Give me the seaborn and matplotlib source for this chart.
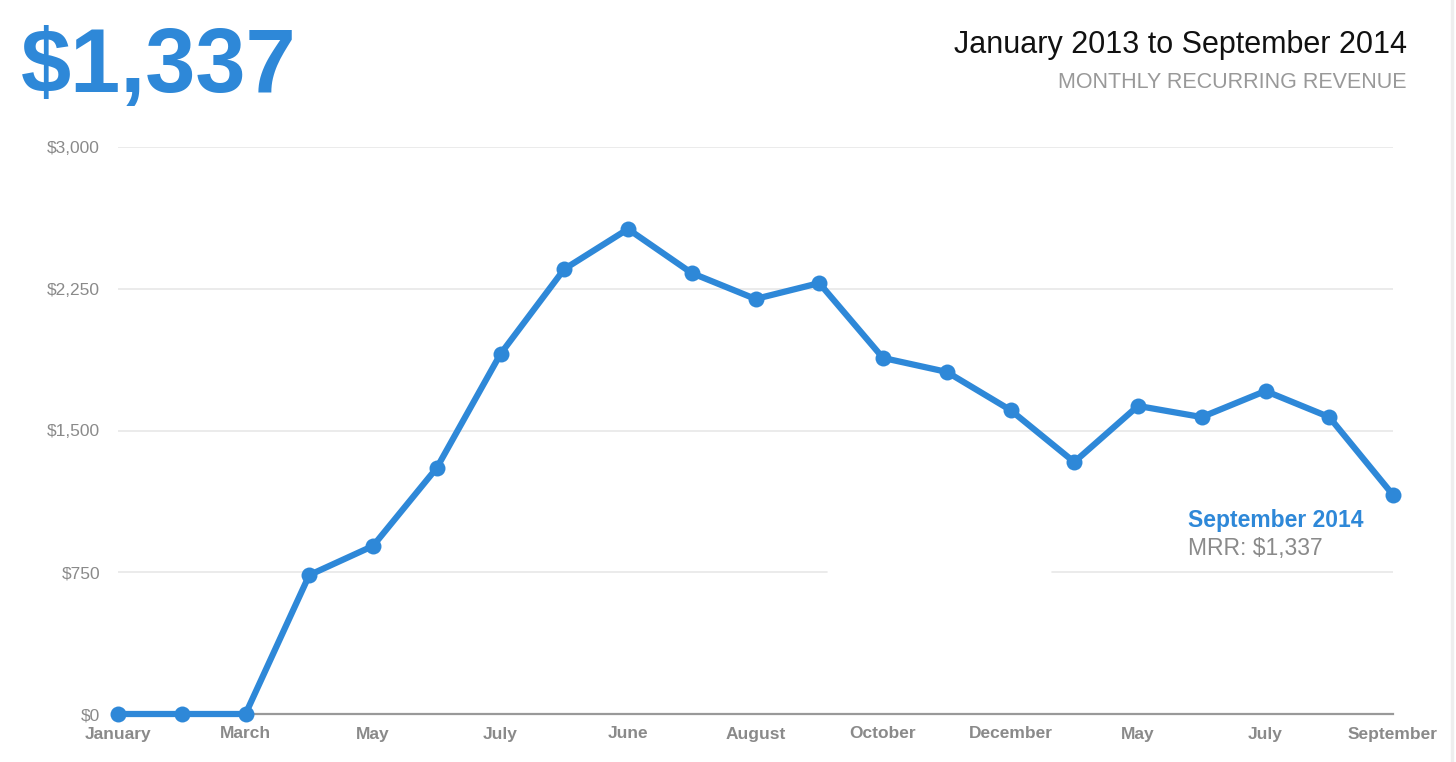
import matplotlib
matplotlib.use("Agg")
import matplotlib.pyplot as plt
import seaborn as sns
import pandas as pd
from matplotlib.lines import Line2D

# monthly recurring revenue, Jan 2013 .. Sep 2014
months = ["Jan 2013", "Feb 2013", "Mar 2013", "Apr 2013", "May 2013", "Jun 2013",
          "Jul 2013", "Aug 2013", "Sep 2013", "Oct 2013", "Nov 2013", "Dec 2013",
          "Jan 2014", "Feb 2014", "Mar 2014", "Apr 2014", "May 2014", "Jun 2014",
          "Jul 2014", "Aug 2014", "Sep 2014"]
mrr = [0, 0, 0, 735, 889, 1302, 1905, 2354, 2566, 2333, 2196, 2280,
       1884, 1810, 1608, 1333, 1630, 1571, 1709, 1571, 1159]
tick_labels = ["January", "March", "May", "July", "June", "August",
               "October", "December", "May", "July", "September"]
y_ticks = [0, 750, 1500, 2250, 3000]

blue = "#2e88d8"
grey = "#8a8a8a"

df = pd.DataFrame({"idx": range(len(months)), "mrr": mrr})

sns.set_style("white")
plt.rcParams["font.family"] = ["Liberation Sans", "DejaVu Sans"]

fig = plt.figure(figsize=(14.56, 7.62), dpi=100)
ax = fig.add_axes([118 / 1456, 48 / 762, (1393 - 118) / 1456, (714 - 147) / 762])

for v in y_ticks[1:]:
    if v == 750:
        # the tooltip box hides part of this line in the original
        ax.axhline(v, xmax=0.556, color="#e8e8e8", lw=1.2, zorder=0)
        ax.axhline(v, xmin=0.7325, color="#e8e8e8", lw=1.2, zorder=0)
    else:
        ax.axhline(v, color="#e8e8e8", lw=1.2, zorder=0)

sns.lineplot(data=df, x="idx", y="mrr", ax=ax, color=blue, lw=4.5,
             marker="o", markersize=11.5, markeredgewidth=0, clip_on=False, zorder=3)

ax.set_xlim(0, len(months) - 1)
ax.set_ylim(0, 3000)
ax.set_xticks(df["idx"][::2], tick_labels)
ax.set_yticks(y_ticks, ["$" + format(v, ",") for v in y_ticks])
ax.tick_params(axis="x", length=0, pad=9, labelsize=12.5, labelcolor=grey)
ax.tick_params(axis="y", length=0, pad=13, labelsize=12.5, labelcolor=grey)
for lab in ax.get_xticklabels():
    lab.set_fontweight("bold")
ax.set_xlabel("")
ax.set_ylabel("")
for s in ["top", "right", "left"]:
    ax.spines[s].set_visible(False)
ax.spines["bottom"].set_color("#999999")
ax.spines["bottom"].set_linewidth(1.6)
ax.spines["bottom"].set_zorder(1)

# tooltip for the last point
ax.text(1188, 762 - 521, "September 2014", transform=None, color=blue,
        fontsize=16.5, fontweight="bold", va="center", ha="left")
ax.text(1188, 762 - 549, "MRR: $1,337", transform=None, color=grey,
        fontsize=16.5, va="center", ha="left")

fig.text(21 / 1456, 1 - 68 / 762, "$1,337", color=blue, fontsize=65,
         fontweight="bold", va="center", ha="left")
fig.text(1407 / 1456, 1 - 45 / 762, "January 2013 to September 2014",
         color="#111111", fontsize=22, va="center", ha="right")
fig.text(1407 / 1456, 1 - 83 / 762, "MONTHLY RECURRING REVENUE",
         color="#999999", fontsize=15.5, va="center", ha="right")

fig.add_artist(Line2D([1452 / 1456, 1452 / 1456], [0, 1], color="#eeeeee", lw=2.5))

fig.savefig("out.png", dpi=100)
